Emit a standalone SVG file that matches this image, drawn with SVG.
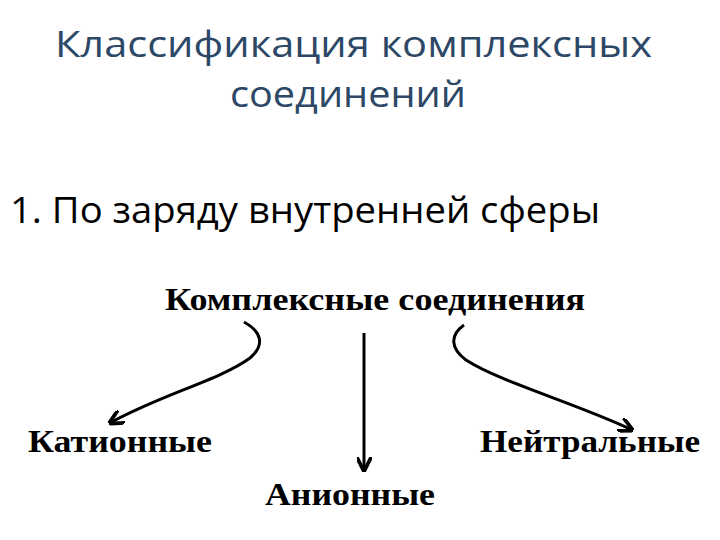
<svg xmlns="http://www.w3.org/2000/svg" width="720" height="540" viewBox="0 0 720 540">
<style>
.t{font-family:"Open Sans","Liberation Sans",sans-serif;font-size:37px;fill:#2c4866}
.h{font-family:"Open Sans","Liberation Sans",sans-serif;font-size:36px;fill:#000}
.n{font-family:"Liberation Serif",serif;font-weight:bold;font-size:31px;fill:#000}
.c{fill:none;stroke:#000;stroke-width:3}
</style>
<defs><marker id="a" viewBox="0 0 10 10" refX="9" refY="5" markerWidth="5" markerHeight="5" orient="auto"><path d="M0,0 L10,5 L0,10" fill="none" stroke="#000" stroke-width="2.5"/></marker></defs>
<rect width="720" height="540" fill="#fff"/>
<text class="t" x="55" y="57" textLength="597" lengthAdjust="spacingAndGlyphs">Классификация комплексных</text>
<text class="t" x="230" y="107" textLength="236" lengthAdjust="spacingAndGlyphs">соединений</text>
<text class="h" x="10" y="223" textLength="590" lengthAdjust="spacingAndGlyphs">1. По заряду внутренней сферы</text>
<g id="root"><text class="n" x="165" y="310" textLength="420" lengthAdjust="spacingAndGlyphs">Комплексные соединения</text></g>
<g id="cat"><text class="n" x="28" y="452" textLength="184" lengthAdjust="spacingAndGlyphs">Катионные</text></g>
<g id="an"><text class="n" x="265" y="505" textLength="170" lengthAdjust="spacingAndGlyphs">Анионные</text></g>
<g id="neu"><text class="n" x="480" y="452" textLength="220" lengthAdjust="spacingAndGlyphs">Нейтральные</text></g>
<g id="connectors">
<path class="c" d="M244,322 C262,332 265,345 250,358 C220,380 160,395 110,423" marker-end="url(#a)"/>
<path class="c" d="M364,333 L364,470" marker-end="url(#a)"/>
<path class="c" d="M464,325 C450,335 450,348 466,360 C500,382 580,405 632,430" marker-end="url(#a)"/>
</g>
</svg>
